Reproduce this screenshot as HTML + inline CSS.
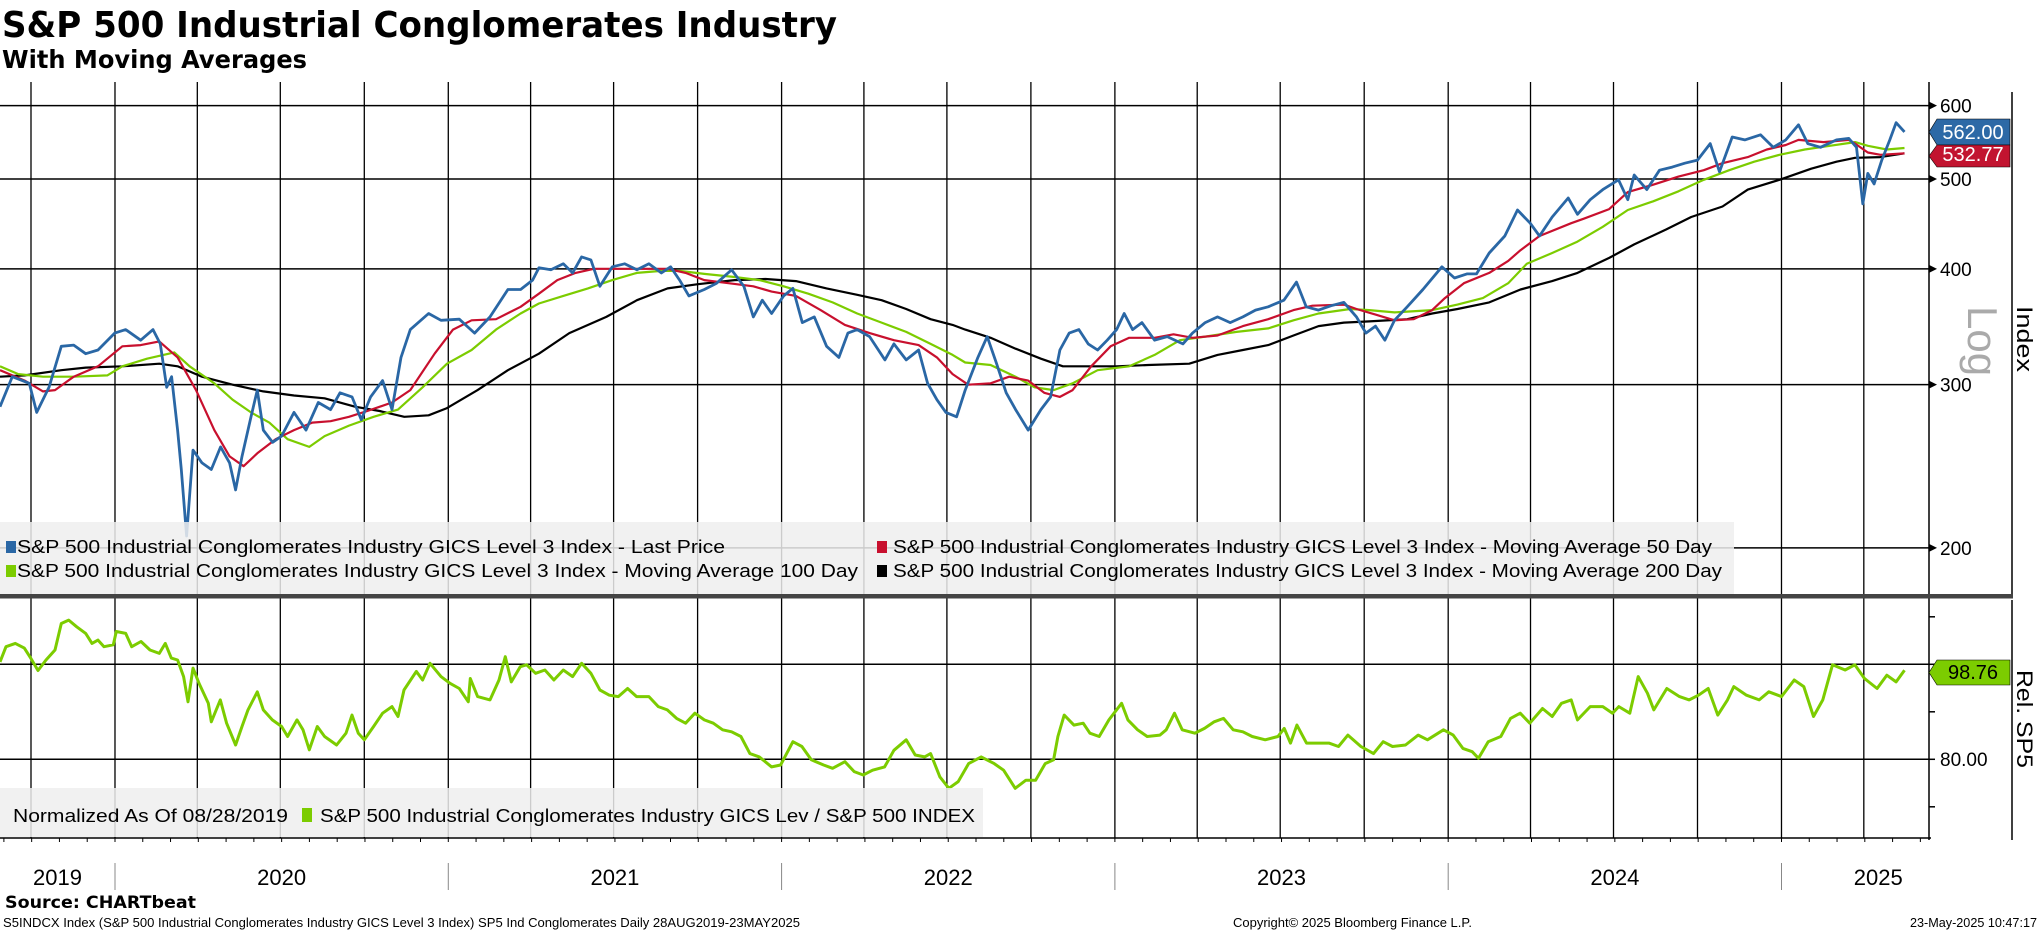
<!DOCTYPE html>
<html><head><meta charset="utf-8"><style>
html,body{margin:0;padding:0;background:#fff;}
svg{display:block;}
text{font-family:"Liberation Sans",sans-serif;}
</style></head><body>
<svg id="chart" width="2041" height="932" viewBox="0 0 2041 932" xmlns="http://www.w3.org/2000/svg">
<text x="2" y="37" font-size="36" font-weight="bold" style="font-family:'DejaVu Sans',sans-serif" textLength="835" lengthAdjust="spacingAndGlyphs">S&amp;P 500 Industrial Conglomerates Industry</text>
<text x="2" y="68" font-size="25" font-weight="bold" style="font-family:'DejaVu Sans',sans-serif" textLength="305" lengthAdjust="spacingAndGlyphs">With Moving Averages</text>
<g id="grid"></g>
<g id="series"></g>
<g id="overlay"></g>
</svg>
<script>
const priceT=[2019.655,2019.692,2019.743,2019.765,2019.802,2019.839,2019.876,2019.912,2019.949,2019.999,2020.032,2020.077,2020.114,2020.136,2020.155,2020.170,2020.188,2020.199,2020.215,2020.234,2020.261,2020.289,2020.317,2020.344,2020.362,2020.381,2020.408,2020.427,2020.445,2020.473,2020.500,2020.537,2020.573,2020.610,2020.647,2020.675,2020.711,2020.739,2020.767,2020.803,2020.831,2020.858,2020.886,2020.941,2020.978,2021.033,2021.079,2021.125,2021.179,2021.217,2021.253,2021.272,2021.308,2021.345,2021.373,2021.400,2021.428,2021.455,2021.492,2021.529,2021.566,2021.602,2021.639,2021.667,2021.694,2021.722,2021.768,2021.805,2021.850,2021.887,2021.915,2021.942,2021.970,2022.006,2022.034,2022.062,2022.098,2022.135,2022.172,2022.199,2022.227,2022.264,2022.310,2022.337,2022.374,2022.411,2022.438,2022.466,2022.493,2022.525,2022.551,2022.589,2022.617,2022.645,2022.674,2022.702,2022.740,2022.778,2022.807,2022.835,2022.863,2022.892,2022.920,2022.948,2022.977,2023.005,2023.028,2023.053,2023.081,2023.119,2023.157,2023.204,2023.233,2023.271,2023.308,2023.346,2023.384,2023.422,2023.460,2023.507,2023.545,2023.574,2023.611,2023.649,2023.687,2023.725,2023.753,2023.782,2023.810,2023.839,2023.877,2023.924,2023.981,2024.019,2024.056,2024.085,2024.123,2024.170,2024.208,2024.246,2024.274,2024.312,2024.360,2024.388,2024.426,2024.464,2024.511,2024.539,2024.558,2024.596,2024.634,2024.672,2024.710,2024.748,2024.786,2024.814,2024.852,2024.890,2024.937,2024.975,2025.013,2025.051,2025.079,2025.117,2025.165,2025.202,2025.225,2025.244,2025.259,2025.278,2025.301,2025.325,2025.344,2025.369];
const priceV=[284,306,301,280,298,330,331,324,327,341,344,335,344,332,298,306,268,243,206,255,247,243,257,247,231,251,277,296,268,260,264,280,268,287,282,294,291,275,291,303,282,321,344,358,352,353,341,355,380,380,389,401,399,405,396,412,409,383,402,405,399,405,396,402,389,374,380,386,399,383,355,370,358,374,381,350,355,330,321,341,344,338,319,332,319,327,301,289,280,277,296,321,338,316,294,282,268,282,291,327,341,344,332,327,335,344,358,344,350,335,338,332,341,350,355,350,355,361,364,370,387,364,361,365,368,355,341,347,335,352,364,380,402,391,395,395,416,434,463,448,434,455,477,458,475,487,499,475,505,487,511,515,520,524,546,509,555,551,558,541,551,572,546,541,551,553,541,470,507,494,524,551,575,562];
const ma50T=[2019.655,2019.729,2019.784,2019.820,2019.876,2019.949,2020.022,2020.077,2020.133,2020.188,2020.243,2020.298,2020.344,2020.386,2020.427,2020.482,2020.537,2020.592,2020.647,2020.702,2020.757,2020.831,2020.886,2020.959,2021.014,2021.070,2021.143,2021.217,2021.272,2021.327,2021.382,2021.437,2021.584,2021.658,2021.712,2021.768,2021.841,2021.915,2021.970,2022.043,2022.117,2022.190,2022.264,2022.337,2022.411,2022.466,2022.513,2022.560,2022.627,2022.683,2022.740,2022.788,2022.835,2022.873,2022.929,2022.987,2023.043,2023.119,2023.176,2023.233,2023.308,2023.384,2023.460,2023.536,2023.593,2023.687,2023.725,2023.782,2023.839,2023.896,2023.952,2023.990,2024.047,2024.123,2024.180,2024.217,2024.274,2024.369,2024.407,2024.483,2024.539,2024.615,2024.691,2024.767,2024.823,2024.899,2024.956,2025.013,2025.051,2025.126,2025.202,2025.221,2025.259,2025.297,2025.369];
const ma50V=[311,303,295,296,306,314,330,331,334,321,296,268,251,245,253,262,268,273,274,277,281,287,296,324,344,352,353,364,376,389,396,400,400,400,396,389,386,383,378,374,361,348,341,335,331,321,308,300,301,306,303,294,291,296,314,330,337,337,340,337,339,347,353,361,365,366,362,357,352,353,361,372,386,396,408,419,434,448,453,464,484,493,503,511,520,528,538,544,551,548,551,546,534,531,532.77];
const ma100T=[2019.655,2019.710,2019.784,2019.876,2019.977,2020.022,2020.096,2020.178,2020.224,2020.298,2020.353,2020.408,2020.463,2020.518,2020.583,2020.629,2020.702,2020.776,2020.849,2020.923,2020.996,2021.070,2021.143,2021.217,2021.272,2021.345,2021.419,2021.492,2021.566,2021.639,2021.694,2021.768,2021.859,2021.933,2022.006,2022.080,2022.153,2022.227,2022.300,2022.374,2022.447,2022.513,2022.551,2022.627,2022.702,2022.759,2022.816,2022.873,2022.948,2023.043,2023.119,2023.195,2023.271,2023.365,2023.460,2023.536,2023.611,2023.706,2023.763,2023.839,2023.952,2024.028,2024.104,2024.180,2024.236,2024.312,2024.388,2024.464,2024.539,2024.615,2024.691,2024.767,2024.843,2024.918,2024.994,2025.070,2025.145,2025.221,2025.259,2025.316,2025.369];
const ma100V=[314,308,306,306,307,314,320,325,314,301,289,280,273,262,257,264,271,277,282,298,316,327,344,358,367,374,381,389,396,398,398,395,392,389,383,376,368,358,350,342,332,323,317,315,306,298,296,301,311,314,323,335,338,342,345,352,358,362,361,359,361,366,372,386,405,416,428,444,463,473,485,499,511,522,531,538,543,548,543,538,540];
const ma200T=[2019.655,2019.729,2019.839,2019.912,2020.022,2020.133,2020.188,2020.261,2020.353,2020.445,2020.537,2020.629,2020.720,2020.794,2020.868,2020.941,2020.996,2021.088,2021.179,2021.272,2021.363,2021.474,2021.566,2021.658,2021.749,2021.859,2021.952,2022.043,2022.135,2022.227,2022.300,2022.374,2022.447,2022.513,2022.551,2022.627,2022.702,2022.778,2022.844,2022.911,2023.005,2023.100,2023.223,2023.308,2023.384,2023.460,2023.536,2023.611,2023.687,2023.763,2023.877,2023.952,2024.028,2024.123,2024.217,2024.312,2024.388,2024.483,2024.558,2024.653,2024.729,2024.823,2024.899,2024.994,2025.089,2025.165,2025.221,2025.297,2025.369];
const ma200V=[306,307,311,313,314,316,314,306,300,295,292,290,284,281,277,278,283,296,311,324,341,355,370,381,385,389,390,388,381,375,370,362,353,348,344,337,328,320,314,314,314,315,316,323,327,331,339,347,350,351,353,358,362,368,380,388,396,411,425,441,455,467,487,499,513,522,527,528,533];
const relT=[2019.655,2019.673,2019.701,2019.728,2019.747,2019.769,2019.793,2019.820,2019.839,2019.861,2019.885,2019.912,2019.931,2019.949,2019.967,2019.995,2020.004,2020.032,2020.050,2020.078,2020.105,2020.133,2020.151,2020.169,2020.188,2020.206,2020.219,2020.234,2020.252,2020.280,2020.289,2020.316,2020.335,2020.362,2020.381,2020.399,2020.427,2020.445,2020.472,2020.500,2020.518,2020.546,2020.564,2020.583,2020.607,2020.629,2020.665,2020.693,2020.711,2020.730,2020.748,2020.776,2020.803,2020.831,2020.849,2020.867,2020.904,2020.923,2020.945,2020.978,2021.005,2021.033,2021.060,2021.066,2021.088,2021.125,2021.152,2021.171,2021.189,2021.216,2021.235,2021.262,2021.290,2021.317,2021.345,2021.373,2021.400,2021.428,2021.455,2021.483,2021.510,2021.538,2021.565,2021.602,2021.630,2021.657,2021.685,2021.712,2021.740,2021.768,2021.795,2021.823,2021.850,2021.878,2021.905,2021.933,2021.970,2021.997,2022.034,2022.061,2022.089,2022.126,2022.153,2022.190,2022.218,2022.245,2022.273,2022.309,2022.337,2022.374,2022.401,2022.429,2022.447,2022.475,2022.502,2022.530,2022.561,2022.599,2022.638,2022.666,2022.701,2022.733,2022.762,2022.791,2022.816,2022.829,2022.848,2022.877,2022.905,2022.925,2022.953,2022.982,2023.020,2023.039,2023.068,2023.097,2023.135,2023.154,2023.179,2023.202,2023.240,2023.269,2023.298,2023.326,2023.355,2023.384,2023.412,2023.451,2023.489,2023.508,2023.527,2023.546,2023.575,2023.604,2023.642,2023.671,2023.699,2023.738,2023.776,2023.805,2023.833,2023.872,2023.910,2023.938,2023.986,2024.015,2024.044,2024.072,2024.091,2024.120,2024.158,2024.187,2024.216,2024.245,2024.283,2024.312,2024.340,2024.369,2024.388,2024.426,2024.464,2024.493,2024.512,2024.545,2024.570,2024.598,2024.617,2024.656,2024.694,2024.723,2024.751,2024.780,2024.809,2024.838,2024.857,2024.895,2024.933,2024.962,2025.000,2025.038,2025.067,2025.096,2025.124,2025.153,2025.191,2025.220,2025.249,2025.287,2025.316,2025.344,2025.369];
const relV=[100.5,103.7,104.4,103.4,101.3,98.7,100.9,103.0,108.6,109.3,107.9,106.5,104.4,105.1,103.7,104.1,106.9,106.5,103.7,104.8,103.0,102.3,104.4,101.3,100.9,97.4,92.1,99.2,96.0,91.8,87.9,92.5,87.6,83.0,86.9,90.4,94.2,90.4,88.3,86.9,84.8,88.3,86.2,82.0,86.9,84.8,83.0,85.5,89.3,85.5,84.1,86.9,89.7,91.1,89.0,94.6,98.5,96.7,100.2,97.4,96.0,94.9,92.1,97.0,93.2,92.5,96.7,101.6,96.3,99.5,99.9,98.1,98.8,96.7,98.8,97.4,100.2,98.1,94.6,93.5,93.2,94.9,93.2,93.2,91.1,90.4,88.6,87.6,89.7,88.3,87.6,86.2,85.8,84.8,81.2,80.5,78.4,78.8,83.7,82.7,79.9,78.8,78.1,79.5,77.4,76.7,77.7,78.4,81.9,84.1,80.9,80.5,81.2,76.3,73.9,75.3,79.1,80.5,79.1,77.7,73.9,75.6,75.6,79.1,79.9,84.8,89.3,87.2,87.6,85.5,84.8,88.3,91.8,88.3,86.2,84.8,85.1,86.2,89.7,86.2,85.5,86.5,87.9,88.6,86.2,85.8,84.8,84.1,84.8,86.5,83.4,87.2,83.4,83.4,83.4,82.7,85.1,82.7,81.2,83.7,82.7,83.0,85.1,84.1,86.2,85.1,82.3,81.6,80.2,83.7,84.8,88.6,89.7,87.6,90.7,89.0,91.8,92.5,88.3,91.1,91.1,89.7,91.1,89.7,97.4,93.9,90.4,94.9,93.2,92.5,93.5,94.9,89.3,92.5,95.3,93.5,92.5,94.2,93.2,96.7,95.3,89.0,92.5,99.9,98.8,99.9,97.0,94.9,97.7,96.3,98.76];
const priceTicks=[600,500,400,300,200];
const relTicks=[110,100,90,80,70];
const relLabels=["80.00"];
const yearLabels=["2019","2020","2021","2022","2023","2024","2025"];
const yearStarts=[2020,2021,2022,2023,2024,2025];

const NS="http://www.w3.org/2000/svg";
const PL=0, PR=1929;
const xs=t=>(t-2019.655)*333.3;
const yp=v=>179-927*Math.log10(v/500);
const yr=v=>759.3-(v-80)*4.75;
function mk(tag,attrs,parent){const e=document.createElementNS(NS,tag);for(const k in attrs)e.setAttribute(k,attrs[k]);parent.appendChild(e);return e;}
const grid=document.getElementById('grid'),ser=document.getElementById('series'),ov=document.getElementById('overlay');

// vertical quarterly gridlines
for(let y=2019;y<=2025;y++){for(const q of [0,0.247,0.496,0.748]){const t=y+q;const x=xs(t);if(x<=2||x>=PR)continue;
 const l=mk('line',{x1:x,x2:x,y1:82,y2:838,stroke:'#000','stroke-width':1.3},grid);
 
 }}
// horizontal upper gridlines
priceTicks.forEach(v=>{const y=yp(v);
 const l=mk('line',{x1:PL,x2:PR,y1:y,y2:y,stroke:'#000','stroke-width':1.5},grid);
 
 
 const tk=mk('polygon',{points:`${PR},${y-4} ${PR+8},${y} ${PR},${y+4}`,fill:'#000'},grid);
 
 
 const tx=mk('text',{x:1940,y:y+7,'font-size':19,fill:'#000'},grid);tx.textContent=v;
 
 });
// lower gridlines & ticks
relTicks.forEach(v=>{const y=yr(v);
 if(v===100||v===80){const l=mk('line',{x1:PL,x2:PR,y1:y,y2:y,stroke:'#000','stroke-width':1.5},grid);
 
 }
 const tk=mk('line',{x1:PR,x2:PR+6,y1:y,y2:y,stroke:'#000','stroke-width':1.5},grid);
 
 });
// axes & frame
[[PR,82,PR,840],[2012,92,2012,596],[2012,600,2012,840],[0,838,PR+2,838]].forEach(a=>{const l=mk('line',{x1:a[0],y1:a[1],x2:a[2],y2:a[3],stroke:'#000','stroke-width':1.5},grid);
 
 });
// monthly ticks
for(let m=0;m<70;m++){const t=2019+8/12+m/12;const x=xs(t);if(x<0||x>PR)continue;
 const l=mk('line',{x1:x,x2:x,y1:838,y2:842,stroke:'#000','stroke-width':1},grid);
 
 }
// year separators & labels
yearStarts.forEach(y=>{const x=xs(y);const l=mk('line',{x1:x,x2:x,y1:863,y2:890,stroke:'#888','stroke-width':1},grid);
 
 });
const yb=[0].concat(yearStarts.map(xs)).concat([1975]);
yearLabels.forEach((s,i)=>{const cx=(yb[i]+yb[i+1])/2;
 const t=mk('text',{x:cx,y:885,'font-size':22,'text-anchor':'middle',fill:'#000'},grid);t.textContent=s;
 
 });

function line(T,V,fy,color,w,name){const pts=T.map((t,i)=>xs(t).toFixed(1)+','+fy(V[i]).toFixed(1)).join(' ');
 const p=mk('polyline',{points:pts,fill:'none',stroke:color,'stroke-width':w,'stroke-linejoin':'round'},ser);
 
 }
line(ma200T,ma200V,yp,'#000',2.2,'ma200-line');
line(ma100T,ma100V,yp,'#7ccc00',2.2,'ma100-line');
line(ma50T,ma50V,yp,'#c8102e',2.2,'ma50-line');
line(priceT,priceV,yp,'#2a67a5',2.8,'last-price-line');
line(relT,relV,yr,'#7ccc00',3,'relative-line');

// overlay: separator, legends, labels
function rect(a,name){const r=mk('rect',a,ov);return r;}
function txt(a,s,name){const t=mk('text',a,ov);t.textContent=s;return t;}
rect({x:0,y:522,width:1734,height:72,fill:'#efefef','fill-opacity':0.85},'price-legend-box');
rect({x:0,y:594,width:2013,height:4.5,fill:'#444'},'panel-separator');
rect({x:0,y:788,width:983,height:49,fill:'#efefef','fill-opacity':0.85},'rel-legend-box');
rect({x:6,y:541,width:10,height:12,fill:'#2a67a5'},'legend-swatch-price');
txt({x:17,y:553,'font-size':18,textLength:708,lengthAdjust:'spacingAndGlyphs'},'S&P 500 Industrial Conglomerates Industry GICS Level 3 Index - Last Price','legend-entry-price');
rect({x:6,y:565,width:10,height:12,fill:'#7ccc00'},'legend-swatch-ma100');
txt({x:17,y:577,'font-size':18,textLength:841,lengthAdjust:'spacingAndGlyphs'},'S&P 500 Industrial Conglomerates Industry GICS Level 3 Index - Moving Average 100 Day','legend-entry-ma100');
rect({x:877,y:541,width:10,height:12,fill:'#c8102e'},'legend-swatch-ma50');
txt({x:893,y:553,'font-size':18,textLength:819,lengthAdjust:'spacingAndGlyphs'},'S&P 500 Industrial Conglomerates Industry GICS Level 3 Index - Moving Average 50 Day','legend-entry-ma50');
rect({x:877,y:565,width:10,height:12,fill:'#000'},'legend-swatch-ma200');
txt({x:893,y:577,'font-size':18,textLength:829,lengthAdjust:'spacingAndGlyphs'},'S&P 500 Industrial Conglomerates Industry GICS Level 3 Index - Moving Average 200 Day','legend-entry-ma200');
txt({x:13,y:822,'font-size':18,textLength:275,lengthAdjust:'spacingAndGlyphs'},'Normalized As Of 08/28/2019','rel-legend-note');
rect({x:302,y:808,width:10,height:14,fill:'#7ccc00'},'legend-swatch-rel');
txt({x:320,y:822,'font-size':18,textLength:655,lengthAdjust:'spacingAndGlyphs'},'S&P 500 Industrial Conglomerates Industry GICS Lev / S&P 500 INDEX','legend-entry-rel');

function tag(y1,y2,fill,s,col,name){const ym=(y1+y2)/2;
 const p=mk('polygon',{points:`${PR},${ym} ${PR+8},${y1} 2010,${y1} 2010,${y2} ${PR+8},${y2}`,fill:fill,stroke:'#000','stroke-width':0.6},ov);
 
 
 txt({x:1973,y:y2-6,'font-size':20,'text-anchor':'middle',fill:col},s,name);}
tag(119,145,'#2d69a6','562.00','#fff','last-price-value');
tag(145,167,'#c21430','532.77','#fff','ma50-value');
tag(660,685,'#7ccc00','98.76','#000','rel-value');
txt({x:1940,y:766,'font-size':19},relLabels[0],'rel-tick-label');

const lg=txt({x:0,y:0,'font-size':42,fill:'#aaa',transform:'translate(1968,306) rotate(90)'},'Log','log-scale-label');
txt({x:0,y:0,'font-size':22,transform:'translate(2017,306) rotate(90)',textLength:66,lengthAdjust:'spacingAndGlyphs'},'Index','y-axis-title');
txt({x:0,y:0,'font-size':22,transform:'translate(2017,670) rotate(90)',textLength:98,lengthAdjust:'spacingAndGlyphs'},'Rel. SP5','rel-axis-title');

txt({x:5,y:908,'font-size':17,'font-weight':'bold',style:"font-family:'DejaVu Sans',sans-serif",textLength:191,lengthAdjust:'spacingAndGlyphs'},'Source: CHARTbeat','source-note');
txt({x:3,y:927,'font-size':12.5,textLength:797,lengthAdjust:'spacingAndGlyphs'},'S5INDCX Index (S&P 500 Industrial Conglomerates Industry GICS Level 3 Index) SP5 Ind Conglomerates  Daily 28AUG2019-23MAY2025','footer-description');
txt({x:1233,y:927,'font-size':12.5,textLength:239,lengthAdjust:'spacingAndGlyphs'},'Copyright© 2025 Bloomberg Finance L.P.','footer-copyright');
txt({x:1910,y:927,'font-size':12.5,textLength:127,lengthAdjust:'spacingAndGlyphs'},'23-May-2025 10:47:17','footer-timestamp');
</script>
</body></html>
